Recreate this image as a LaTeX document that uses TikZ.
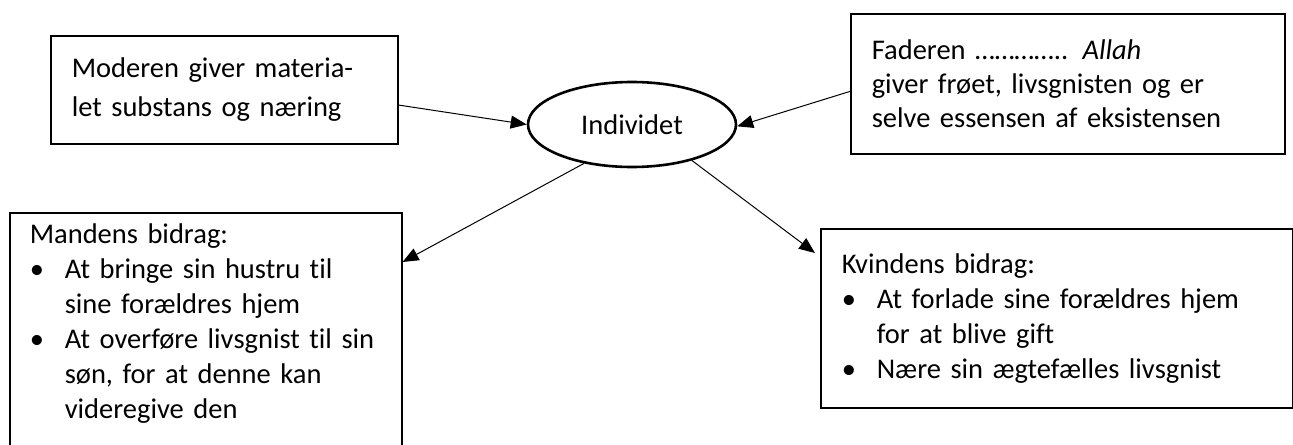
\documentclass[tikz,border=0pt]{standalone}
\usepackage{fontspec}
\setmainfont{Carlito}[Ligatures=NoCommon]
\usepackage{enumitem}
\usetikzlibrary{arrows.meta,calc,shapes.geometric}

\tikzset{
    tekstboks/.style={draw, line width=0.8pt, rectangle, anchor=north west,
        align=left, inner xsep=10.5pt, inner ysep=0pt},
    pil/.style={line width=0.5pt, -{Triangle[length=8pt,width=6.5pt]}},
}
\newcommand\tekst{\fontsize{14.25}{17.5}\selectfont}
\setlist[itemize]{leftmargin=17.5pt, labelwidth=17.5pt, labelsep=0pt, align=left,
    topsep=0pt, partopsep=0pt, itemsep=0pt, parsep=0pt, label=\textbullet}

\begin{document}
\begin{tikzpicture}[x=0.5pt, y=-0.5pt]
\useasboundingbox (0,0) rectangle (1293,444);
\clip (0,0) rectangle (1293,444);

\node[tekstboks, text width=152.5pt, minimum height=54pt,
    font=\fontsize{14.25}{19.5}\selectfont] (moder) at (50,35)
    {Moderen giver materia-\\let substans og næring};

\node[draw, ellipse, line width=1.3pt, minimum width=104pt,
    minimum height=42.5pt, inner sep=0pt, font=\tekst] (indiv) at (632,124.5)
    {Individet};

\node[tekstboks, text width=196pt, minimum height=70pt,
    font=\fontsize{14.25}{17}\selectfont] (fader) at (850,13)
    {Faderen ………….. \textit{Allah}\\giver frøet, livsgnisten og er\\selve essensen af eksistensen};

% boksen fortsætter ned under kanten
\node[tekstboks, text width=176pt, inner xsep=10pt, inner ysep=5.5pt,
    font=\tekst] (mand) at (9,212)
    {Mandens bidrag:
    \begin{itemize}
    \item At bringe sin hustru til\\sine forældres hjem
    \item At overføre livsgnist til sin\\søn, for at denne kan\\videregive den
    \end{itemize}
    \par\rule{0pt}{20pt}};

\node[tekstboks, text width=215pt, minimum height=89.5pt, font=\tekst] (kvind) at (820,228)
    {Kvindens bidrag:
    \begin{itemize}
    \item At forlade sine forældres hjem\\for at blive gift
    \item Nære sin ægtefælles livsgnist
    \end{itemize}};

% forbindelser til og fra individet
\draw[pil] (moder.-5) -- (indiv.180);
\draw[pil] (fader.182) -- (indiv.-1);
\draw[pil] (indiv.219) -- ($(mand.north east)+(0,50)$);
\draw[pil] (indiv.-31) -- ($(kvind.north west)+(-5,25)$);
\end{tikzpicture}
\end{document}
